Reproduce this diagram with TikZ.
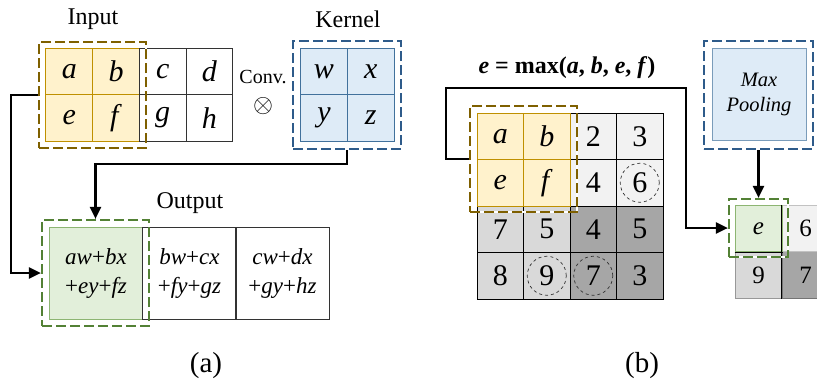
\documentclass[tikz,border=0pt]{standalone}
\usepackage{fontspec}
\setmainfont{Liberation Serif}
\usetikzlibrary{arrows.meta,calc}
\definecolor{yfill}{HTML}{FFF2CC}
\definecolor{yline}{HTML}{BF9000}
\definecolor{ydash}{HTML}{7F6000}
\definecolor{bfill}{HTML}{DEEBF7}
\definecolor{bline}{HTML}{41719C}
\definecolor{bdash}{HTML}{2E5B8A}
\definecolor{gfill}{HTML}{E2EFDA}
\definecolor{gline}{HTML}{8DB572}
\definecolor{gdash}{HTML}{538135}
\definecolor{glight}{HTML}{F2F2F2}
\definecolor{gmid}{HTML}{D9D9D9}
\definecolor{gdark}{HTML}{A6A6A6}
\tikzset{
  cell/.style={draw=black!80,line width=1pt,minimum width=46.7pt,minimum height=46.5pt,inner sep=0pt,font=\fontsize{30}{32}\selectfont},
  bcell/.style={draw=black,line width=1pt,minimum width=46.5pt,minimum height=46.5pt,inner sep=0pt,font=\fontsize{30}{32}\selectfont},
  scell/.style={line width=1pt,minimum width=47pt,minimum height=46.5pt,inner sep=0pt,font=\fontsize{25}{27}\selectfont},
  ocell/.style={draw=black!80,line width=1pt,minimum width=93.5pt,minimum height=92pt,inner sep=0pt,align=center,font=\fontsize{23}{29}\selectfont},
  dbox/.style={draw=#1,line width=2.2pt,dash pattern=on 10pt off 4pt,minimum width=107pt,minimum height=106pt,inner sep=0pt,
     preaction={draw=white,line width=2.2pt,solid}},
  conn/.style={line width=2.2pt,-{Triangle[length=12pt,width=11pt]}},
  lab/.style={font=\fontsize{24}{26}\selectfont},
  dcirc/.style={draw=black!80,dashed,line width=0.7pt,circle,minimum size=39pt,inner sep=0pt},
}
\begin{document}
\begin{tikzpicture}[x=1pt,y=-1pt]
\useasboundingbox (0,0) rectangle (817,384);
\clip (0,0) rectangle (817,384);
% ---------- (a) ----------
\node[lab] (inlab) at (93,19) {Input};
\node[lab] (kerlab) at (348,19) {Kernel};
\node[cell,fill=yfill,draw=yline] (ia) at (69.3,71.3) {\textit{a}};
\node[cell,fill=yfill,draw=yline] (ib) at (116,71.3) {\textit{b}};
\node[cell] (ic) at (162.7,71.3) {\textit{c}};
\node[cell] (id) at (209.4,71.3) {\textit{d}};
\node[cell,fill=yfill,draw=yline] (ie) at (69.3,117.8) {\textit{e}};
\node[cell,fill=yfill,draw=yline] (if) at (116,117.8) {\textit{f}};
\node[cell] (ig) at (162.7,117.8) {\textit{g}};
\node[cell] (ih) at (209.4,117.8) {\textit{h}};
\node[dbox=ydash] (ya) at (92.5,95) {};
\node[font=\fontsize{20}{22}\selectfont,inner sep=0pt] (conv) at (263,77) {Conv.};
\node[inner sep=0pt] (otimes) at (263,106) {\resizebox{20pt}{!}{$\otimes$}};
\node[cell,fill=bfill,draw=bline] (kw) at (324,71.3) {\textit{w}};
\node[cell,fill=bfill,draw=bline] (kx) at (370.7,71.3) {\textit{x}};
\node[cell,fill=bfill,draw=bline] (ky) at (324,117.8) {\textit{y}};
\node[cell,fill=bfill,draw=bline] (kz) at (370.7,117.8) {\textit{z}};
\node[dbox=bdash,minimum width=108pt,minimum height=108pt] (kb) at (347,95) {};
\node[lab] (outlab) at (190,203) {Output};
\node[ocell,fill=gfill,draw=gline] (o1) at (96,273) {\textit{aw}+\textit{bx}\\+\textit{ey}+\textit{fz}};
\node[ocell] (o2) at (189.5,273) {\textit{bw}+\textit{cx}\\+\textit{fy}+\textit{gz}};
\node[ocell] (o3) at (282.5,273) {\textit{cw}+\textit{dx}\\+\textit{gy}+\textit{hz}};
\node[dbox=gdash] (go) at (95.5,273) {};
\draw[conn] (ya.west) -- ++(-27,0) |- (go.west);
\draw[conn] (kb.south) -- ++(0,14) -| (go.north);
\node[font=\fontsize{29}{31}\selectfont] (capa) at (206,366) {(a)};
% ---------- (b) ----------
\node[font=\fontsize{24}{26}\selectfont\bfseries] (maxlab) at (567,68) {\textit{e} = max(\textit{a}, \textit{b}, \textit{e}, \textit{f})};
\node[bcell,fill=glight] (b13) at (593.25,136.25) {2};
\node[bcell,fill=glight] (b14) at (639.75,136.25) {3};
\node[bcell,fill=glight] (b23) at (593.25,182.75) {4};
\node[bcell,fill=glight] (b24) at (639.75,182.75) {6};
\node[bcell,fill=gmid] (b31) at (500.25,229.25) {7};
\node[bcell,fill=gmid] (b32) at (546.75,229.25) {5};
\node[bcell,fill=gdark] (b33) at (593.25,229.25) {4};
\node[bcell,fill=gdark] (b34) at (639.75,229.25) {5};
\node[bcell,fill=gmid] (b41) at (500.25,275.75) {8};
\node[bcell,fill=gmid] (b42) at (546.75,275.75) {9};
\node[bcell,fill=gdark] (b43) at (593.25,275.75) {7};
\node[bcell,fill=gdark] (b44) at (639.75,275.75) {3};
\node[bcell,fill=yfill,draw=yline] (b11) at (500.25,136.25) {\textit{a}};
\node[bcell,fill=yfill,draw=yline] (b12) at (546.75,136.25) {\textit{b}};
\node[bcell,fill=yfill,draw=yline] (b21) at (500.25,182.75) {\textit{e}};
\node[bcell,fill=yfill,draw=yline] (b22) at (546.75,182.75) {\textit{f}};
\node[dcirc] (c1) at (b24) {};
\node[dcirc] (c2) at (b42) {};
\node[dcirc] (c3) at (b43) {};
\node[dbox=ydash] (yb) at (523.5,159) {};
\node[draw=bline!70,fill=bfill,line width=1pt,minimum width=94pt,minimum height=92pt,align=center,font=\fontsize{20.5}{25}\selectfont\itshape] (pool) at (759,94) {Max\\Pooling};
\node[dbox=bdash,minimum width=109pt,minimum height=108pt] (pd) at (758.5,95) {};
\node[scell,fill=gmid,draw=gmid!70!black] (s21) at (758.5,275.2) {9};
\node[scell,fill=gdark,draw=gdark!70!black] (s22) at (805.5,275.2) {7};
\node[scell,fill=glight,draw=glight!80!black] (s12) at (805.5,228.5) {6};
\node[scell,fill=gfill,draw=gline] (s11) at (758.5,228.5) {\textit{e}};
\draw[line width=1pt] (s11.south west) -- (s11.south east) (s12.north west) -- (s22.south west);
\node[dbox=gdash,minimum width=59pt,minimum height=58pt] (gs) at (758.5,228) {};
\coordinate (turn) at (686,88);
\draw[conn] (yb.west) -- ++(-23,0) |- (turn) |- (gs.west);
\draw[conn] (pd.south) -- (gs.north);
\node[font=\fontsize{29}{31}\selectfont] (capb) at (642,366) {(b)};
\end{tikzpicture}
\end{document}
